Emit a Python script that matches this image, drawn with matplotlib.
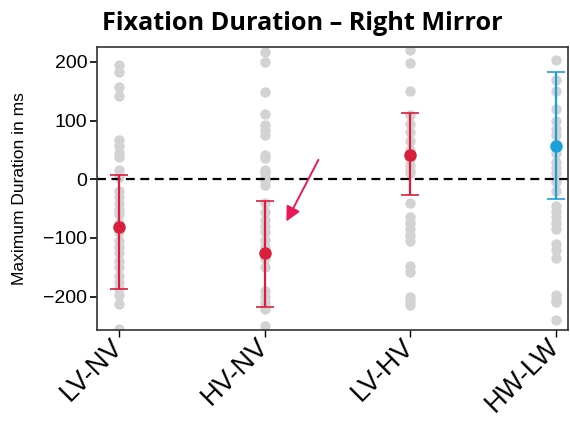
import matplotlib.pyplot as plt
import numpy as np

# data
conditions = ['LV-NV', 'HV-NV', 'LV-HV', 'HW-LW']

dots_lvnv = [195, 183, 158, 142, 67, 57, 45, 38, 15, 4, -20, -30, -40, -50, -60,
             -75, -90, -105, -115, -125, -140, -150, -165, -175, -185, -198, -212, -255]
dots_hvnv = [217, 200, 148, 112, 92, 84, 75, 41, 36, 16, 10, 2, -1, -10, -40, -55,
             -70, -80, -90, -104, -115, -135, -150, -190, -200, -211, -222, -251]
dots_lvhv = [220, 198, 150, 110, 95, 80, 65, 50, 35, 25, 15, 10, -40, -65, -75,
             -85, -95, -105, -148, -158, -200, -208, -214]
dots_hwlw = [203, 170, 150, 120, 100, 85, 75, 60, 45, 30, 20, 10, -5, -20, -45,
             -55, -65, -75, -85, -110, -120, -135, -198, -205, -210, -240]

means = [-82, -125, 41, 56]
ci_low = [-187, -217, -27, -33]
ci_high = [7, -37, 113, 183]
colors = ['#DA1F3D', '#DA1F3D', '#DA1F3D', '#1BA1DA']

# annotation arrow (data coords)
arrow_start = (1.37, 33)
arrow_end = (1.15, -72)

fig = plt.figure(figsize=(5.7, 4.22), dpi=100)
ax = fig.add_axes([0.170, 0.218, 0.826, 0.670])

x = np.arange(len(conditions))
all_dots = [dots_lvnv, dots_hvnv, dots_lvhv, dots_hwlw]
for i, d in enumerate(all_dots):
  ax.plot([x[i]] * len(d), d, 'o', color='#D3D3D3', markersize=6.5, zorder=1)

ax.axhline(0, color='black', linestyle=(0, (4, 2.5)), linewidth=1.6, zorder=2)

for i in range(len(conditions)):
  yerr = [[means[i] - ci_low[i]], [ci_high[i] - means[i]]]
  ax.errorbar(x[i], means[i], yerr=yerr, fmt='o', color=colors[i],
              markersize=8, elinewidth=1.6, capsize=6.5, capthick=1.2, zorder=3)

ax.annotate('', xy=arrow_end, xytext=arrow_start,
            arrowprops=dict(arrowstyle='-|>', color='#E8195A', lw=1.4,
                            mutation_scale=22, shrinkA=0, shrinkB=0))

ax.set_xlim(-0.151, 3.082)
ax.set_ylim(-257, 225)
ax.set_yticks([-200, -100, 0, 100, 200])
ax.set_yticklabels(['\u2212200', '\u2212100', '0', '100', '200'])
ax.set_xticks(x)
ax.set_xticklabels(conditions, rotation=45, ha='right', va='center',
                   rotation_mode='anchor')

ax.tick_params(axis='y', labelsize=14, length=5, width=1.2, pad=2)
ax.tick_params(axis='x', labelsize=19.5, length=5, width=1, pad=4)
for lab in ax.get_xticklabels() + ax.get_yticklabels():
  lab.set_fontfamily('Liberation Sans')

for s in ax.spines.values():
  s.set_color('#333333')
  s.set_linewidth(1.2)

ax.set_ylabel('Maximum Duration in ms', fontsize=12.5, family='Liberation Sans',
              labelpad=12)

fig.text(0.53, 0.945, 'Fixation Duration \u2013 Right Mirror', ha='center',
         va='center', fontsize=18.2, fontweight='bold', family='Open Sans')

fig.savefig('out.png', dpi=100)
